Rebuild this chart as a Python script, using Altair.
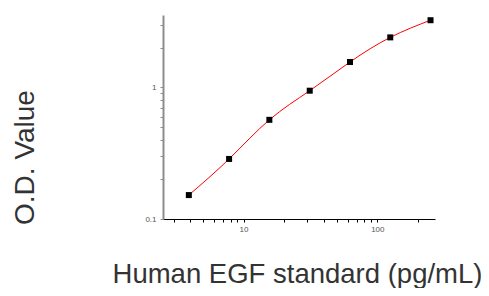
import altair as alt
import pandas as pd

# Standard curve data
conc = [3.9, 7.8, 15.6, 31.25, 62.5, 125, 250]
od = [0.152, 0.286, 0.567, 0.944, 1.56, 2.40, 3.24]

x_ticks = [3, 4, 5, 6, 7, 8, 9, 10, 20, 30, 40, 50, 60, 70, 80, 90, 100, 200]
y_ticks = [0.1, 0.2, 0.3, 0.4, 0.5, 0.6, 0.7, 0.8, 0.9, 1, 2, 3]

x_title = "Human EGF standard (pg/mL)"
y_title = "O.D. Value"

df = pd.DataFrame({"conc": conc, "od": od})

FONT = "Liberation Sans"

x_enc = alt.X(
    "conc:Q",
    scale=alt.Scale(type="log", domain=[2.5, 270], nice=False),
    axis=alt.Axis(
        values=x_ticks,
        labelExpr="(datum.value == 10 || datum.value == 100) ? datum.label : ''",
        format="d",
        grid=False,
        domainColor="#000000",
        domainWidth=1,
        tickColor="#000000",
        tickSize=3,
        labelFont=FONT,
        labelFontSize=8,
        labelColor="#555555",
        labelPadding=3,
        labelOverlap=False,
        labelFlush=False,
        title=x_title,
        titleFont=FONT,
        titleFontSize=27.5,
        titleFontWeight="normal",
        titleColor="#333333",
        titleX=134,
        titleY=63.5,
        titleAlign="center",
        titleBaseline="alphabetic",
    ),
)

y_enc = alt.Y(
    "od:Q",
    scale=alt.Scale(type="log", domain=[0.1, 3.55], nice=False),
    axis=alt.Axis(
        values=y_ticks,
        labelExpr="datum.value == 1 ? '1' : (abs(datum.value - 0.1) < 1e-9 ? '0.1' : '')",
        grid=False,
        domainColor="#8c8c8c",
        domainWidth=2,
        tickColor="#8c8c8c",
        tickSize=3,
        labelFont=FONT,
        labelFontSize=8,
        labelColor="#555555",
        labelPadding=4,
        labelOverlap=False,
        labelFlush=False,
        title=y_title,
        titleFont=FONT,
        titleFontSize=28,
        titleFontWeight="normal",
        titleColor="#333333",
        titleAngle=270,
        titleX=-130,
        titleY=142,
        titleAlign="center",
        titleBaseline="alphabetic",
    ),
)

base = alt.Chart(df)

line = base.mark_line(color="#ff0000", strokeWidth=1, interpolate="natural").encode(
    x=x_enc, y=y_enc
)
points = base.mark_square(color="#000000", size=36, opacity=1).encode(
    x="conc:Q", y="od:Q"
)

chart = (
    alt.layer(line, points)
    .properties(
        width=272,
        height=204,
        autosize=alt.AutoSizeParams(type="none"),
        padding={"left": 155, "top": 7, "right": 46, "bottom": 69},
    )
    .configure_view(stroke=None)
)

chart.save("out.html", embed_options={"renderer": "svg", "actions": False})
